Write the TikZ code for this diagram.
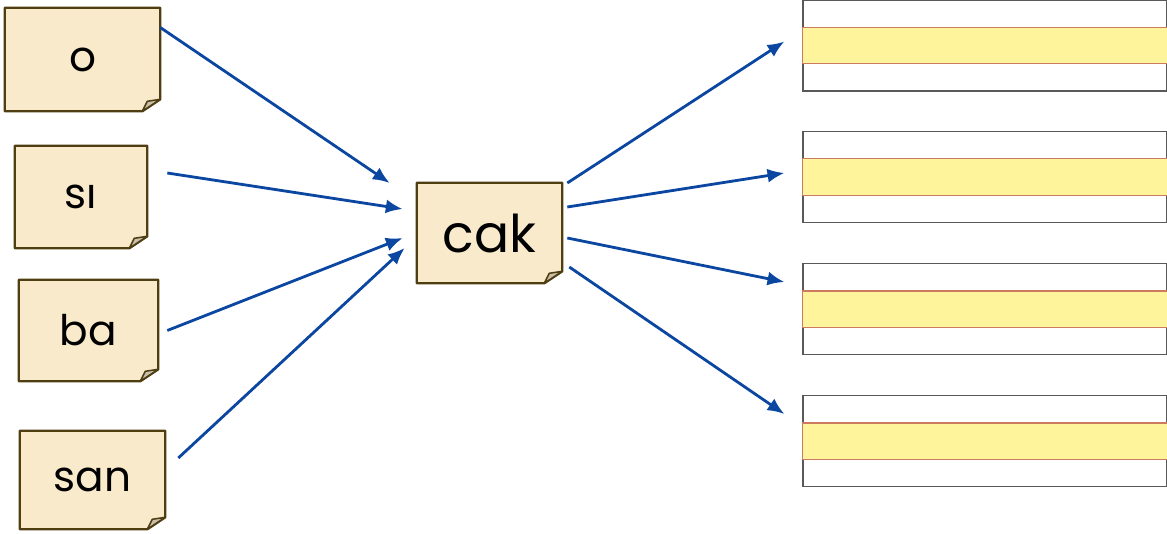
\documentclass[tikz,border=0pt]{standalone}
\usepackage{fontspec}
\setmainfont{Poppins}
\usetikzlibrary{arrows.meta,backgrounds}
\definecolor{notefill}{HTML}{F8EACB}
\definecolor{noteedge}{HTML}{4E3E12}
\definecolor{foldgray}{HTML}{C9BFAB}
\definecolor{flowblue}{HTML}{0B47A1}
\definecolor{bandfill}{HTML}{FDF49C}
\definecolor{bandline}{HTML}{CC7A60}
\tikzset{
  note/.style={inner sep=0pt,font=\fontsize{30}{32}\selectfont},
  flow/.style={draw=flowblue,line width=2pt,-{Latex[length=12pt,width=10pt]}},
  stripebox/.style={draw=gray!70!black,line width=0.8pt,minimum width=9.1cm,minimum height=2.275cm,inner sep=0pt}
}
\newcommand\stickynote[1]{%
  \draw[fill=notefill,draw=noteedge,line width=1.6pt,line join=round]
    (#1.north west) -- (#1.north east) -- ([shift={(0,-12)}]#1.south east)
    -- ([shift={(-18,0)}]#1.south east) -- (#1.south west) -- cycle;
  \draw[fill=foldgray,draw=noteedge,line width=1.1pt,line join=round]
    ([shift={(-18,0)}]#1.south east) -- ([shift={(-13,-10)}]#1.south east)
    -- ([shift={(0,-12)}]#1.south east) -- cycle;
}
\newcommand\stripeband[1]{%
  \draw[fill=bandfill,draw=bandline,line width=0.8pt]
    ([yshift=-0.7cm]#1.north west) rectangle ([yshift=0.7cm]#1.south east);
}
\begin{document}
\begin{tikzpicture}[x=0.025cm,y=-0.025cm]
  \useasboundingbox (0,0) rectangle (1167,534);
  \node[note,minimum width=3.875cm,minimum height=2.575cm] (o) at (82.5,59.5) {o};
  \node[note,minimum width=3.3cm,minimum height=2.55cm] (si) at (81,197) {sı};
  \node[note,minimum width=3.475cm,minimum height=2.525cm] (ba) at (88.5,330.5) {ba};
  \node[note,minimum width=3.625cm,minimum height=2.45cm] (san) at (92.5,480) {san};
  \node[note,minimum width=3.625cm,minimum height=2.5cm,font=\fontsize{37}{39}\selectfont] (cak) at (489.5,233) {cak};
  \begin{scope}[on background layer]
    \stickynote{o}
    \stickynote{si}
    \stickynote{ba}
    \stickynote{san}
    \stickynote{cak}
  \end{scope}
  \node[stripebox] (r1) at (985,45.5) {};
  \node[stripebox] (r2) at (985,177) {};
  \node[stripebox] (r3) at (985,309) {};
  \node[stripebox] (r4) at (985,441) {};
  \stripeband{r1}
  \stripeband{r2}
  \stripeband{r3}
  \stripeband{r4}
  \draw[flow] ([shift={(0,-32)}]o.east) -- ([shift={(-27,-50)}]cak.west);
  \draw[flow] ([shift={(20,-24)}]si.east) -- ([shift={(-14,-24)}]cak.west);
  \draw[flow] ([shift={(9,0)}]ba.east) -- ([shift={(-14,5)}]cak.west);
  \draw[flow] ([shift={(13,-22)}]san.east) -- ([shift={(-12,15)}]cak.west);
  \draw[flow] ([shift={(5,-50)}]cak.east) -- ([shift={(-18,-4)}]r1.west);
  \draw[flow] ([shift={(5,-26)}]cak.east) -- ([shift={(-18,-4)}]r2.west);
  \draw[flow] ([shift={(5,5)}]cak.east) -- ([shift={(-18,-27)}]r3.west);
  \draw[flow] ([shift={(7,34)}]cak.east) -- ([shift={(-18,-27)}]r4.west);
\end{tikzpicture}
\end{document}
